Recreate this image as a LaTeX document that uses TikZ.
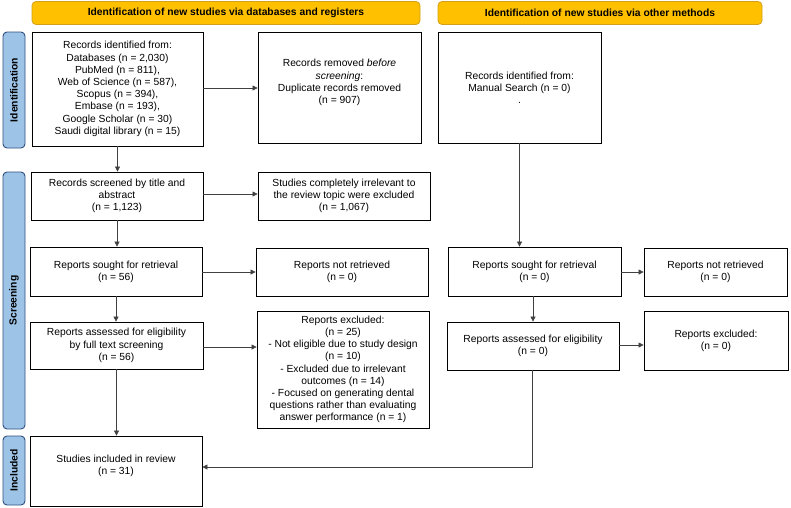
\documentclass[tikz,border=0pt]{standalone}
\usepackage{fontspec}
\setmainfont{Liberation Sans}
\usetikzlibrary{arrows.meta}
\definecolor{hdr}{HTML}{FFC000}
\definecolor{hdrline}{HTML}{D4A017}
\definecolor{sidefill}{HTML}{9DC3E6}
\definecolor{sideline}{HTML}{2F4F7F}
\begin{document}
\begin{tikzpicture}[x=1pt,y=-1pt,
  box/.style={draw=black, line width=0.8pt, fill=white, align=center,
    font=\fontsize{10.3}{12.2}\selectfont, inner sep=0pt},
  hdrbox/.style={draw=hdrline, line width=0.8pt, fill=hdr, rounded corners=4pt,
    font=\bfseries\fontsize{10.3}{12}\selectfont, minimum height=23pt, inner sep=0pt},
  sidebox/.style={draw=sideline, line width=0.9pt, fill=sidefill, rounded corners=4pt,
    font=\bfseries\fontsize{10.3}{12}\selectfont, minimum height=22pt, inner sep=0pt, rotate=90},
  arr/.style={-{Triangle[length=5pt,width=5pt]}, draw=black!75, line width=0.6pt}]
\useasboundingbox (0,0) rectangle (791,507);

% headers
\node[hdrbox, minimum width=388pt] (h1) at (226,13) {Identification of new studies via databases and registers};
\node[hdrbox, minimum width=324pt] (h2) at (600,13) {Identification of new studies via other methods};

% side bars
\node[sidebox, minimum width=116pt] (s1) at (14,90) {Identification};
\node[sidebox, minimum width=257pt] (s2) at (14,300.5) {Screening};
\node[sidebox, minimum width=69pt] (s3) at (14,470.5) {Included};

% identification row
\node[box, minimum width=171pt, minimum height=114pt] (b1) at (117.5,89)
  {Records identified from:\\Databases (n = 2,030)\\PubMed (n = 811),\\Web of Science (n = 587),\\Scopus (n = 394),\\Embase (n = 193),\\Google Scholar (n = 30)\\Saudi digital library (n = 15)};
\node[box, minimum width=163pt, minimum height=111pt] (rem) at (339.5,87.5)
  {Records removed \textit{before}\\\textit{screening}:\\Duplicate records removed\\(n = 907)\\~};
\node[box, minimum width=163pt, minimum height=111pt] (man) at (519.5,87.5)
  {Records identified from:\\Manual Search (n = 0)\\.};

% screening
\node[box, minimum width=172pt, minimum height=48pt] (scr) at (117,196)
  {Records screened by title and\\abstract\\(n = 1,123)};
\node[box, minimum width=172pt, minimum height=48pt] (irr) at (344,196)
  {Studies completely irrelevant to\\the review topic were excluded\\(n = 1,067)};
\node[box, minimum width=172pt, minimum height=49pt] (sou) at (116,271.5)
  {Reports sought for retrieval\\(n = 56)};
\node[box, minimum width=172pt, minimum height=48pt] (nr) at (342,272)
  {Reports not retrieved\\(n = 0)};
\node[box, minimum width=173pt, minimum height=47pt] (ass) at (116.5,345.5)
  {Reports assessed for eligibility\\by full text screening\\(n = 56)};
\node[box, minimum width=172pt, minimum height=117pt] (exc) at (343,369.5)
  {Reports excluded:\\(n = 25)\\- Not eligible due to study design\\(n = 10)\\- Excluded due to irrelevant\\outcomes (n = 14)\\- Focused on generating dental\\questions rather than evaluating\\answer performance (n = 1)};
\node[box, minimum width=172pt, minimum height=70pt] (inc) at (116,471)
  {Studies included in review\\(n = 31)\\~};

% other methods
\node[box, minimum width=173pt, minimum height=49pt] (sou2) at (534.5,271.5)
  {Reports sought for retrieval\\(n = 0)};
\node[box, minimum width=143pt, minimum height=48pt] (nr2) at (715.5,272)
  {Reports not retrieved\\(n = 0)};
\node[box, minimum width=172pt, minimum height=48pt] (ass2) at (533,346)
  {Reports assessed for eligibility\\(n = 0)};
\node[box, minimum width=144pt, minimum height=59pt] (exc2) at (716,340.5)
  {Reports excluded:\\(n = 0)};

% connectors
\draw[arr] (b1.south) -- (b1.south |- scr.north);
\draw[arr] (b1.east |- 0,88) -- (rem.west |- 0,88);
\draw[arr] (scr.south) -- (scr.south |- sou.north);
\draw[arr] (scr.east |- 0,194) -- (irr.west |- 0,194);
\draw[arr] (sou.south) -- (sou.south |- ass.north);
\draw[arr] (sou.east |- 0,272) -- (nr.west |- 0,272);
\draw[arr] (ass.south) -- (ass.south |- inc.north);
\draw[arr] (ass.east |- 0,347) -- (exc.west |- 0,347);
\draw[arr] (man.south) -- (man.south |- sou2.north);
\draw[arr] (sou2.east |- 0,272) -- (nr2.west |- 0,272);
\draw[arr] (sou2.south -| ass2.south) -- (ass2.north);
\draw[arr] (ass2.east |- 0,345) -- (exc2.west |- 0,345);
\coordinate (turn) at (532,467);
\draw[arr] (ass2.south -| turn) -- (turn) -- (turn -| inc.east);
\end{tikzpicture}
\end{document}
